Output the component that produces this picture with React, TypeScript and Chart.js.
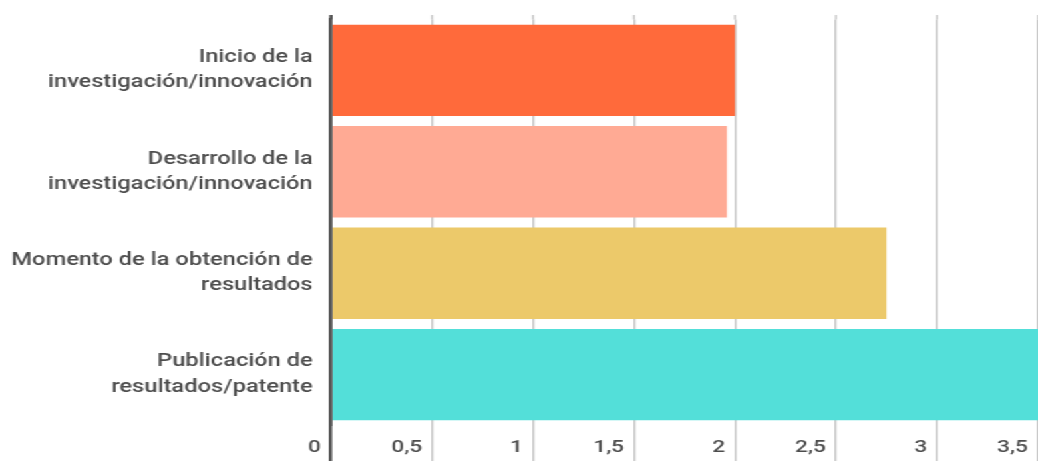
import React, { useEffect, useRef } from "react";
import { Chart, registerables } from "chart.js";

Chart.register(...registerables);

// Stage categories (multi-line labels) and the mean score for each
const categories: string[][] = [
  ["Inicio de la", "investigación/innovación"],
  ["Desarrollo de la", "investigación/innovación"],
  ["Momento de la obtención de", "resultados"],
  ["Publicación de", "resultados/patente"],
];
const values: number[] = [2.0, 1.96, 2.75, 3.6];
const barColors: string[] = ["#FF6A3B", "#FFAA94", "#ECC96A", "#53DFD9"];

// Value axis settings
const xMin = 0;
const xMax = 3.5;
const xStep = 0.5;

const FONT = "Roboto, 'Noto Sans', sans-serif";
const TEXT = "#4d4d4d";
const GRID = "#c9c9c9";
const AXIS = "#555555";

// Draws the vertical grid lines a few pixels above the plot area
const gridOverhang = {
  id: "gridOverhang",
  beforeDatasetsDraw(chart: any) {
    const x = chart.scales.x;
    const { top } = chart.chartArea;
    const ctx = chart.ctx;
    ctx.save();
    x.ticks.forEach((t: any) => {
      const px = x.getPixelForValue(t.value);
      ctx.beginPath();
      ctx.strokeStyle = t.value === 0 ? AXIS : GRID;
      ctx.lineWidth = t.value === 0 ? 2.6 : 1.5;
      ctx.moveTo(px, 15);
      ctx.lineTo(px, top);
      ctx.stroke();
    });
    ctx.restore();
  },
};

export default function App() {
  const canvasRef = useRef<HTMLCanvasElement | null>(null);

  useEffect(() => {
    if (!canvasRef.current) return;
    const chart = new Chart(canvasRef.current, {
      type: "bar",
      data: {
        labels: categories,
        datasets: [
          {
            data: values,
            backgroundColor: barColors,
            borderWidth: 0,
            categoryPercentage: 1,
            barPercentage: 0.9,
          },
        ],
      },
      plugins: [gridOverhang],
      options: {
        indexAxis: "y",
        animation: false,
        responsive: true,
        maintainAspectRatio: false,
        layout: { padding: { top: 19.6, left: 0, right: 0, bottom: 0 } },
        plugins: {
          legend: { display: false },
          tooltip: { enabled: false },
          title: { display: false },
        },
        scales: {
          x: {
            type: "linear",
            min: xMin,
            max: xMax,
            border: { display: false },
            grid: {
              color: (c: any) => (c.tick && c.tick.value === 0 ? AXIS : GRID),
              lineWidth: (c: any) => (c.tick && c.tick.value === 0 ? 2.6 : 1.5),
              drawTicks: true,
              tickLength: 36,
            },
            ticks: {
              stepSize: xStep,
              align: "end",
              labelOffset: -7.5,
              padding: -23.5,
              color: TEXT,
              font: { family: FONT, size: 17, weight: "500" },
              callback: (v: any) => String(v).replace(".", ","),
            },
            afterFit: (s: any) => {
              s.height = 35.6;
              s.paddingLeft = 0;
              s.paddingRight = 0;
            },
          },
          y: {
            z: 1,
            border: { display: true, color: AXIS, width: 2.6 },
            grid: { display: false, drawTicks: false },
            ticks: {
              padding: 13.7,
              color: TEXT,
              font: { family: FONT, size: 17.8, weight: "500", lineHeight: 1.42 },
            },
            afterFit: (s: any) => {
              s.width = 248.7;
              s.paddingTop = 0;
              s.paddingBottom = 0;
            },
          },
        },
      },
    });
    return () => chart.destroy();
  }, []);

  return (
    <div
      style={{
        position: "fixed",
        left: 0,
        top: 0,
        width: 780,
        height: 461,
        transform: "scaleX(1.3308)",
        transformOrigin: "0 0",
        background: "#fff",
      }}
    >
      <canvas ref={canvasRef} />
    </div>
  );
}
